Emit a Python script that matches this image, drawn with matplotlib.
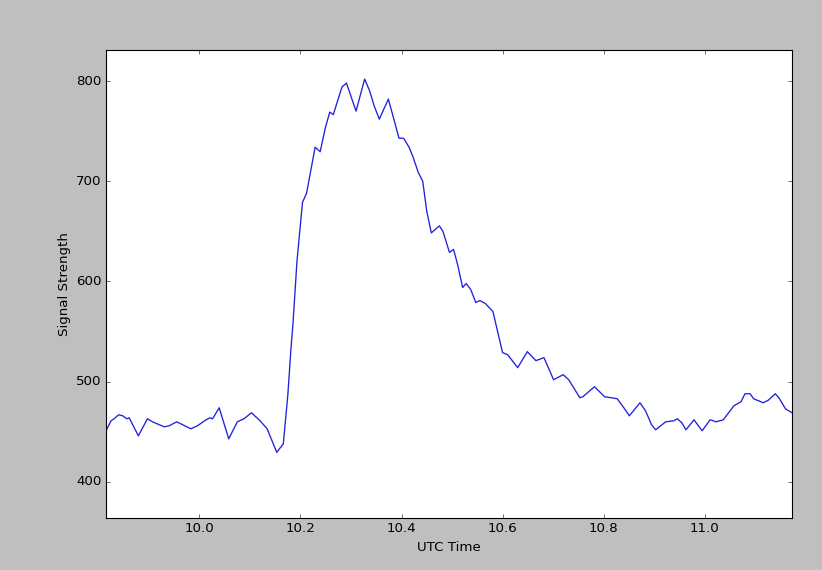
import matplotlib
matplotlib.use("Agg")
import matplotlib.pyplot as plt

plt.style.use("classic")

utc_time = [9.815, 9.825, 9.831, 9.840, 9.848, 9.856, 9.861, 9.879, 9.897, 9.907,
            9.930, 9.940, 9.955, 9.963, 9.983, 9.996, 10.013, 10.021, 10.026, 10.039,
            10.058, 10.075, 10.088, 10.103, 10.120, 10.134, 10.153, 10.166, 10.175, 10.181,
            10.185, 10.193, 10.204, 10.212, 10.229, 10.239, 10.249, 10.258, 10.265, 10.282,
            10.291, 10.310, 10.327, 10.337, 10.346, 10.356, 10.374, 10.395, 10.404, 10.415,
            10.423, 10.433, 10.442, 10.450, 10.459, 10.475, 10.482, 10.495, 10.503, 10.511,
            10.521, 10.528, 10.537, 10.547, 10.555, 10.566, 10.581, 10.600, 10.610, 10.630,
            10.649, 10.666, 10.682, 10.701, 10.720, 10.731, 10.753, 10.759, 10.782, 10.802,
            10.827, 10.843, 10.851, 10.872, 10.883, 10.895, 10.903, 10.923, 10.939, 10.946,
            10.955, 10.963, 10.979, 10.995, 11.011, 11.023, 11.037, 11.058, 11.072, 11.080,
            11.090, 11.097, 11.116, 11.126, 11.140, 11.147, 11.160, 11.173]

signal = [451, 461, 463, 467, 466, 463, 464, 446, 463, 460,
          455, 456, 460, 458, 453, 456, 462, 464, 463, 474,
          443, 460, 463, 469, 461, 453, 429.5, 438, 487, 532,
          557, 620, 679, 688, 734, 729.5, 753, 769, 766.6, 794,
          798, 770, 802, 790, 775, 762, 782, 743, 743, 734,
          724, 709, 700, 670, 648.5, 655.5, 650, 629, 632, 617,
          594, 598, 592, 579, 581, 578, 570, 529, 527, 514,
          530, 521, 524, 502, 507, 502, 484, 485, 495, 485,
          483, 472, 466, 479, 471, 457, 452, 460, 461, 463,
          459, 452, 462, 451, 462, 460, 462, 476, 480, 488,
          488, 483, 479, 481.5, 488, 484, 473, 469]

fig = plt.figure(figsize=(822 / 80, 570 / 80), dpi=80)
fig.patch.set_facecolor("#bfbfbf")
ax = fig.add_axes([106 / 822, 52 / 570, 686 / 822, 468 / 570])
ax.plot(utc_time, signal, color="#2222dd", linewidth=1.2)
ax.set_xlim(9.815, 11.173)
ax.set_ylim(364, 831)
ax.set_xticks([10.0, 10.2, 10.4, 10.6, 10.8, 11.0])
ax.set_yticks([400, 500, 600, 700, 800])
ax.set_xlabel("UTC Time")
ax.set_ylabel("Signal Strength")
fig.savefig("out.png", dpi=80, facecolor=fig.get_facecolor())
